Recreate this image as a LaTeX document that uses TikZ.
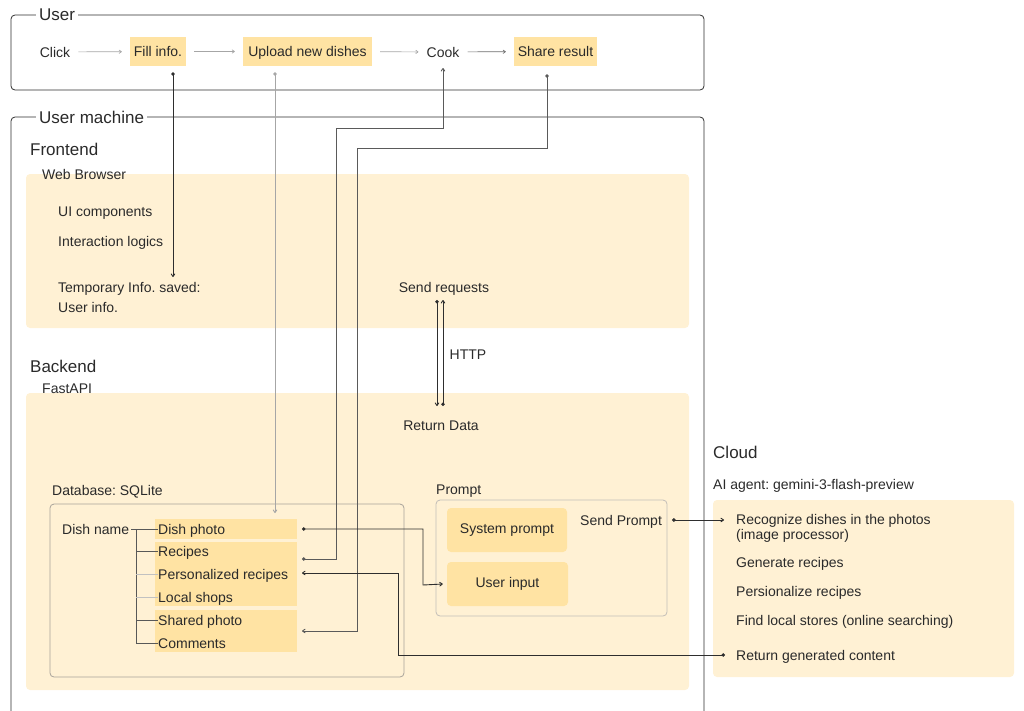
\documentclass[tikz,border=0pt]{standalone}
\usepackage{fontspec}
\setmainfont{Liberation Sans}
\usetikzlibrary{arrows.meta,calc}
\definecolor{bgY}{HTML}{FFF1D4}
\definecolor{itemY}{HTML}{FFE3A3}
\definecolor{darkL}{HTML}{2E2E2E}
\definecolor{midL}{HTML}{5A5A5A}
\definecolor{grayL}{HTML}{A6A6A6}
\definecolor{boxL}{HTML}{A8A39A}
\definecolor{txt}{HTML}{2A2A2A}
\frenchspacing
\begin{document}
\frenchspacing
\begin{tikzpicture}[x=1pt,y=-1pt,
  every node/.style={font=\fontsize{14}{16}\selectfont, inner sep=0pt, text=txt},
  title/.style={font=\fontsize{17}{20}\selectfont, fill=white, inner xsep=3pt, anchor=west},
  sect/.style={font=\fontsize{17}{20}\selectfont, anchor=west},
  lbl/.style={anchor=west, text height=11.5pt, text depth=1.5pt},
  itembox/.style={fill=itemY, minimum height=29pt, text height=11.5pt, text depth=1.5pt},
  flowarrow/.style={draw=grayL, line width=0.7pt, -{To[length=3pt,width=4pt]}, shorten <=8pt, shorten >=8pt},
  darkline/.style={draw=darkL, line width=0.9pt},
  midline/.style={draw=midL, line width=0.9pt},
  grayline/.style={draw=grayL, line width=0.9pt},
  dot/.style={{Circle[length=3.5pt]}-{To[length=3.5pt,width=4.5pt]}},
]
\useasboundingbox (0,0) rectangle (1024,710);

% ---------- User ----------
\draw[darkL, line width=0.8pt, rounded corners=4pt] (11,15) rectangle (704,90);
\node[title] (usert) at (36,15) {User};

\node[lbl, anchor=center] (click) at (55,52) {Click};
\node[itembox, minimum width=56pt] (fill) at (158,51.5) {Fill info.};
\node[itembox, minimum width=129pt] (upload) at (307.5,51.5) {Upload new dishes};
\node[lbl, anchor=center] (cook) at (443,52) {Cook};
\node[itembox, minimum width=83pt] (share) at (555.5,51.5) {Share result};

\draw[flowarrow] (click) -- (fill);
\draw[flowarrow] (fill) -- (upload);
\draw[flowarrow] (upload) -- (cook);
\draw[flowarrow, draw=darkL!70] (cook) -- (share);

% ---------- User machine ----------
\draw[darkL, line width=0.8pt, rounded corners=4pt] (11,712) -- (11,117) -- (704,117) -- (704,712);
\node[title] (umt) at (36,117) {User machine};

\node[sect] (frontend) at (30,149) {Frontend};
\fill[bgY, rounded corners=4pt] (26,174) rectangle (689,328);
\node[lbl] (web) at (42,174) {Web Browser};
\node[lbl] (ui) at (58,211) {UI components};
\node[lbl] (inter) at (58,241) {Interaction logics};
\node[lbl] (temp) at (58,287) {Temporary Info. saved:};
\node[lbl] (uinfo) at (58,307) {User info.};
\node[lbl, anchor=center] (sendreq) at (444,287) {Send requests};

\node[sect] (backend) at (30,366) {Backend};
\fill[bgY, rounded corners=4pt] (26,393) rectangle (689,690);
\node[lbl] (fastapi) at (42,388) {FastAPI};
\node[lbl, anchor=center] (retdata) at (441,425) {Return Data};
\node[lbl, anchor=center] (http) at (468,354) {HTTP};

% Database
\node[lbl] (dbt) at (52,490) {Database: SQLite};
\draw[boxL, line width=0.8pt, rounded corners=4pt] (50,504) rectangle (404,677);
\fill[itemY] (155,519) rectangle (297,539);
\fill[itemY] (155,542) rectangle (297,606);
\fill[itemY] (155,610) rectangle (297,652);
\node[lbl] (dishname) at (62,529) {Dish name};
\node[lbl] (dphoto) at (158,529) {Dish photo};
\node[lbl] (recipes) at (158,551) {Recipes};
\node[lbl] (precipes) at (158,574) {Personalized recipes};
\node[lbl] (shops) at (158,597) {Local shops};
\node[lbl] (sphoto) at (158,620) {Shared photo};
\node[lbl] (comments) at (158,643) {Comments};
\draw[darkL!80, line width=0.8pt] (131,529) -- (dphoto.west);
\draw[darkL!80, line width=0.8pt] (136,529) -- (136,643);
\draw[darkL!80, line width=0.8pt] (136,551) -- (recipes.west);
\draw[grayL!70, line width=0.8pt] (136,574) -- (precipes.west);
\draw[grayL!70, line width=0.8pt] (136,597) -- (shops.west);
\draw[darkL!80, line width=0.8pt] (136,620) -- (sphoto.west);
\draw[darkL!80, line width=0.8pt] (136,643) -- (comments.west);

% Prompt
\node[lbl] (promptt) at (436,489) {Prompt};
\draw[boxL!70, line width=0.8pt, rounded corners=4pt] (436,500) rectangle (667,616);
\node[fill=itemY, rounded corners=4pt, minimum width=120pt, minimum height=44pt] (sysp) at (507,530) {System prompt};
\node[fill=itemY, rounded corners=4pt, minimum width=121pt, minimum height=44pt] (uinput) at (507.5,584) {User input};
\node[lbl] (sendp) at (580,520) {Send Prompt};

% ---------- Cloud ----------
\node[sect] (cloud) at (713,452) {Cloud};
\node[lbl] (agent) at (713,484) {AI agent: gemini-3-flash-preview};
\fill[bgY, rounded corners=4pt] (713,500) rectangle (1014,677);
\node[anchor=west, align=left, font=\fontsize{14}{15.5}\selectfont] (recog) at (736,528.5) {Recognize dishes in the photos\\(image processor)};
\node[lbl] (gen) at (736,562) {Generate recipes};
\node[lbl] (pers) at (736,591) {Persionalize recipes};
\node[lbl] (find) at (736,620) {Find local stores (online searching)};
\node[lbl] (retgen) at (736,655) {Return generated content};

% ---------- Connectors ----------
% Fill info -> temporary info
\draw[darkline, dot] ([xshift=15pt,yshift=-6pt]fill.south) -- (173,277);
% Upload -> Dish photo
\draw[grayline, dot] ([xshift=-32.5pt,yshift=-6pt]upload.south) -- (275,513);
% Recipes -> Cook
\draw[midline, dot] (302,559) -- (336,559) -- (336,128) -- (443,128) -- (443,68);
% Share -> Shared photo
\draw[midline, dot] ([xshift=-8.5pt,yshift=-8pt]share.south) -- (547,148) -- (357,148) -- (357,631) -- (302,631);
% HTTP
\draw[darkline, dot] (437,300) -- (437,406);
\draw[darkline, dot] (443,406) -- (443,300);
% Dish photo -> User input
\draw[darkline, dot] (302,529) -- (423,529) -- (423,585) -- ([xshift=-4pt]uinput.west);
% Send prompt -> Recognize
\draw[darkline, dot] ([xshift=10pt]sendp.east) -- (724,520);
% Return generated -> Personalized recipes
\draw[darkline, dot] ([xshift=-11pt]retgen.west) -- (398,655) -- (398,573) -- (302,573);
\end{tikzpicture}
\end{document}
